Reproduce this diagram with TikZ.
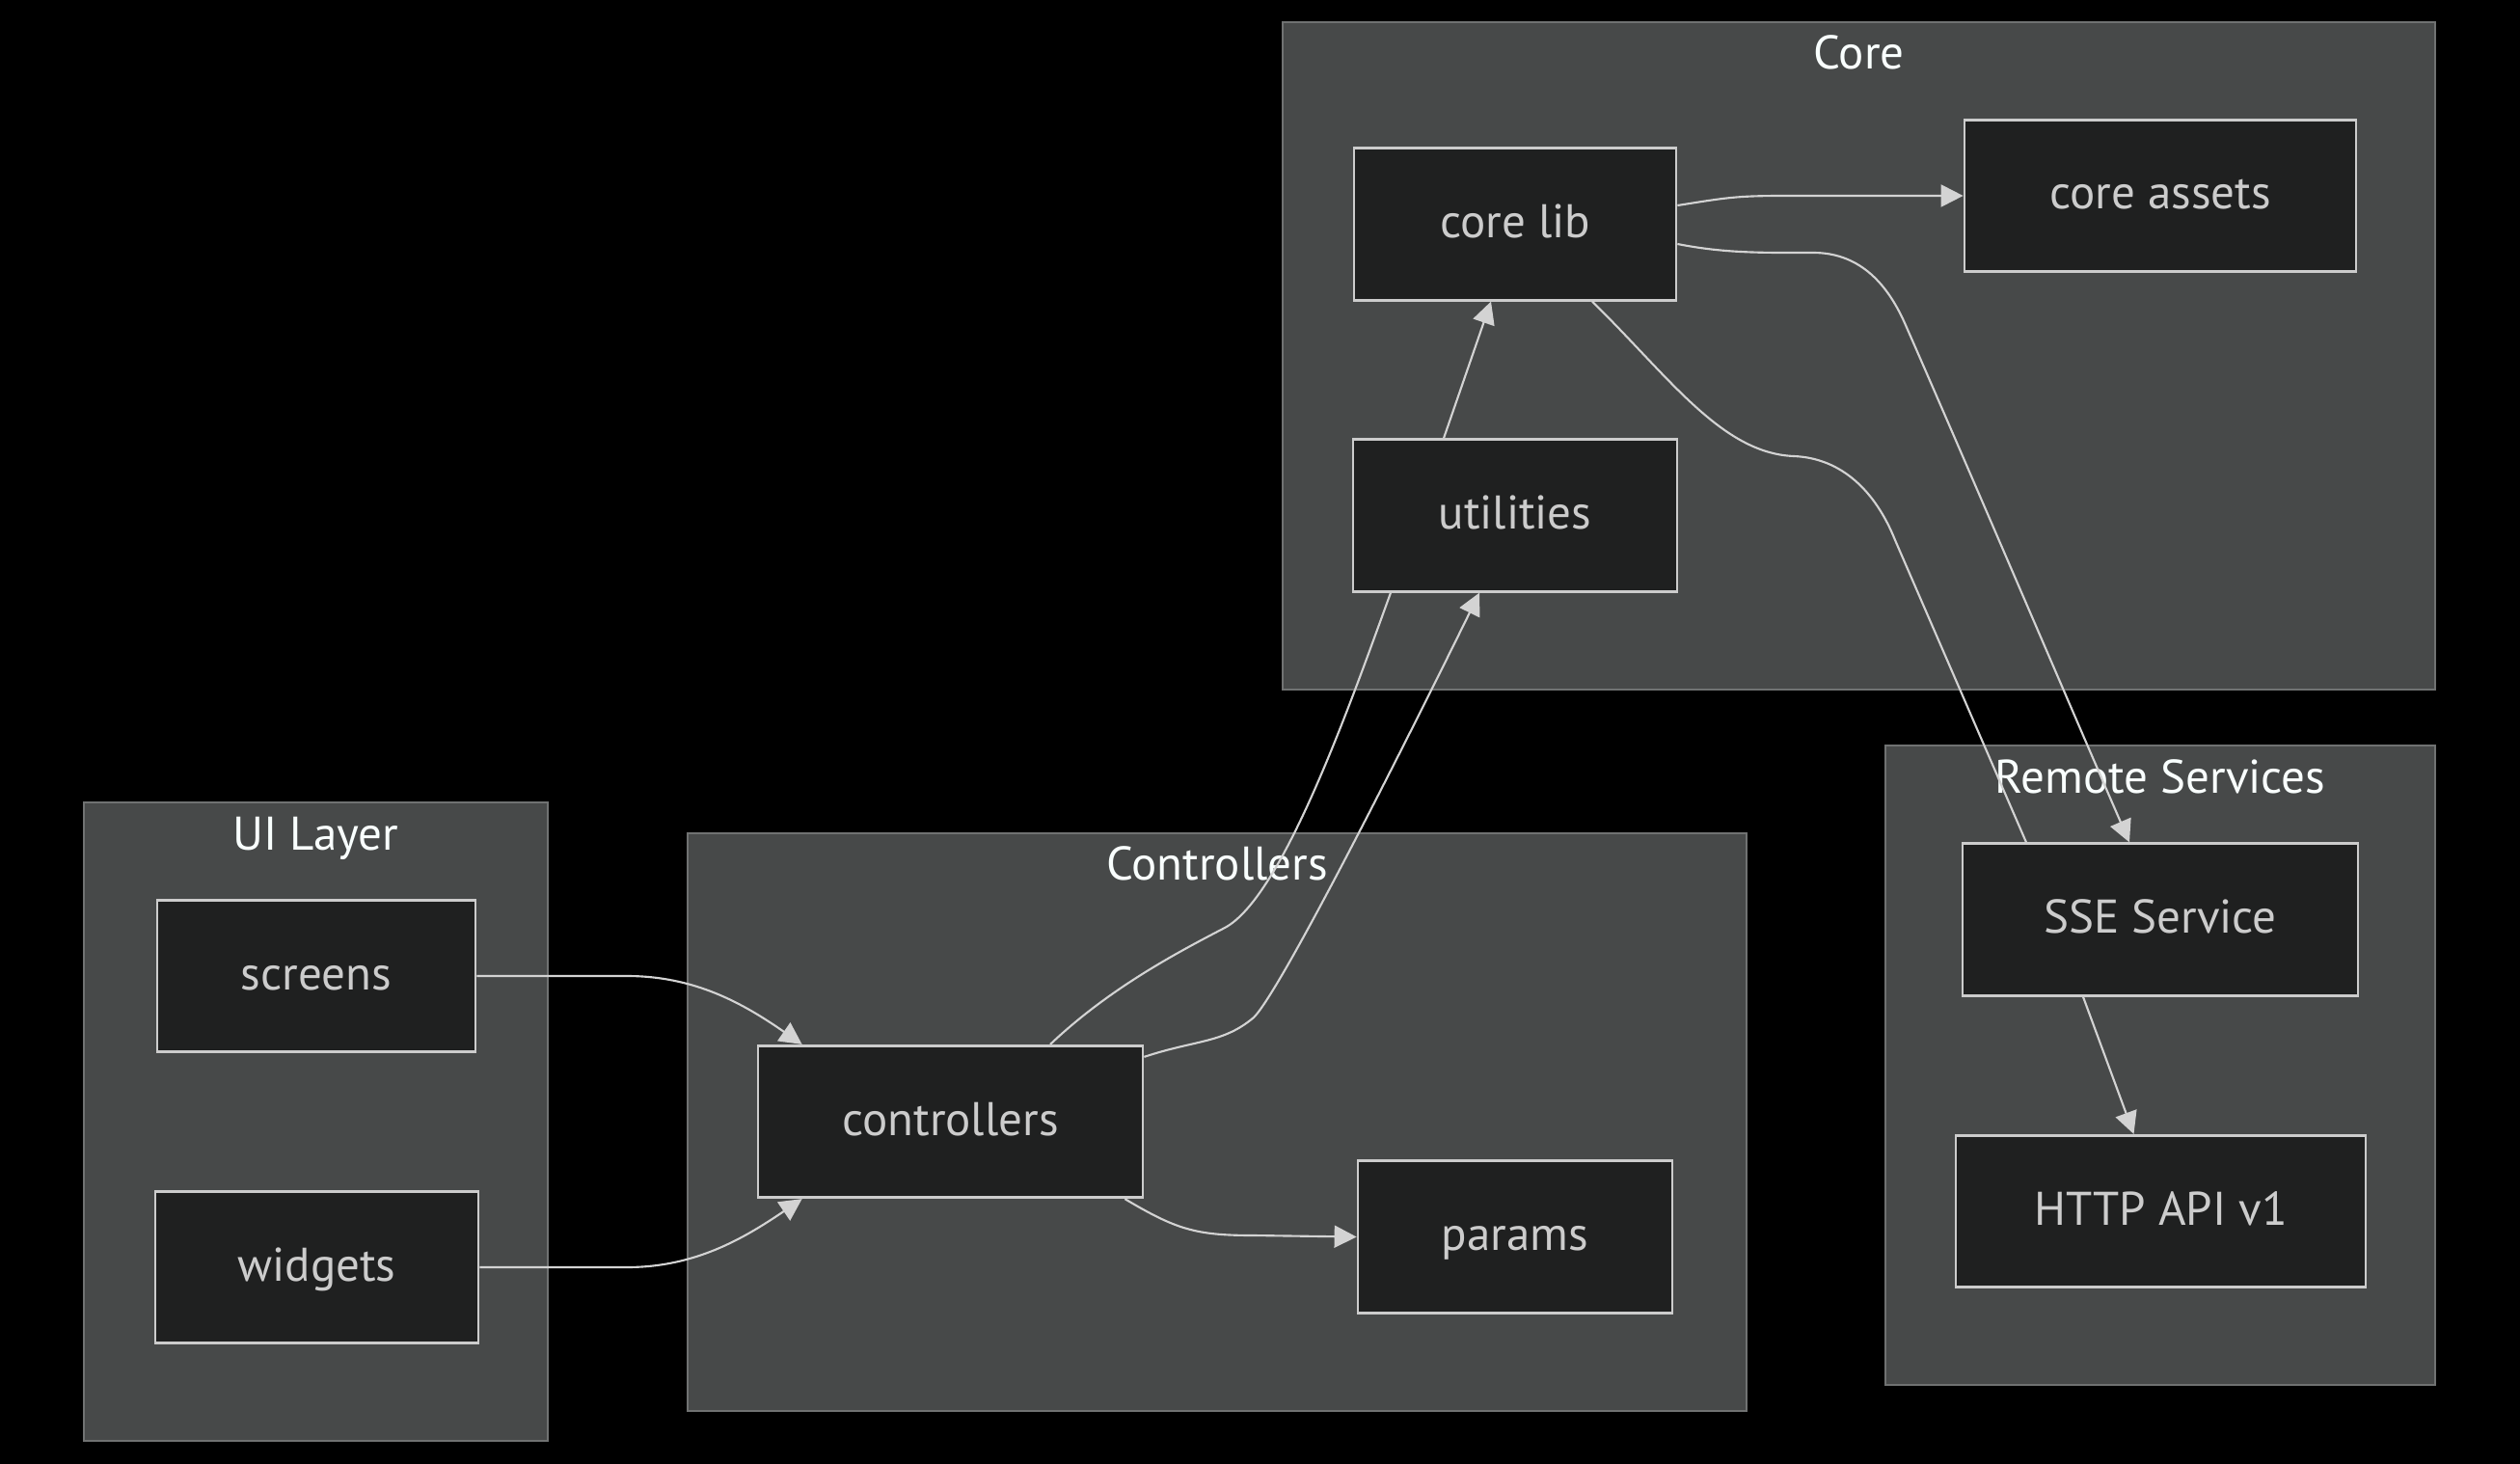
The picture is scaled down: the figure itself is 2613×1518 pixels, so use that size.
\documentclass[tikz,border=0pt]{standalone}
\usepackage{fontspec}
\setmainfont{PT Sans}
\usetikzlibrary{arrows.meta}
\definecolor{clfill}{HTML}{474949}
\definecolor{clborder}{HTML}{707272}
\definecolor{nodefill}{HTML}{1F2020}
\definecolor{nodeborder}{HTML}{CCCCCC}
\definecolor{nodetext}{HTML}{CCCCCC}
\definecolor{titletext}{HTML}{F9FFFE}
\definecolor{edgecol}{HTML}{D3D3D3}
\begin{document}
\begin{tikzpicture}[x=0.4pt,y=-0.4pt,
 cluster/.style={fill=clfill, draw=clborder, line width=0.8pt},
 ctitle/.style={text=titletext, font=\fontsize{19.6pt}{23pt}\selectfont, inner sep=0pt},
 box/.style={rectangle, fill=nodefill, draw=nodeborder, line width=1.1pt, text=nodetext,
   font=\fontsize{19.6pt}{23pt}\selectfont, minimum height=63pt, inner sep=0pt,
   text height=14.5pt, text depth=3.3pt},
 edge/.style={draw=edgecol, line width=0.85pt},
 arr/.style={edge, -{Triangle[length=9.2pt,width=9.2pt]}},
]
\useasboundingbox (0,0) rectangle (2613,1518);
\fill[black] (0,0) rectangle (2613,1518);

% clusters
\draw[cluster] (1330,23) rectangle (2525,715);
\draw[cluster] (1955,773) rectangle (2525,1436);
\draw[cluster] (87,832) rectangle (568,1494);
\draw[cluster] (713,864) rectangle (1811,1463);

\node[ctitle, anchor=base] (tcore) at (1927.5,72) {Core};
\node[ctitle, anchor=base] (tremote) at (2240,822) {Remote Services};
\node[ctitle, anchor=base] (tui) at (327.5,881) {UI Layer};
\node[ctitle, anchor=base] (tctrl) at (1262,912) {Controllers};

% nodes
\node[box, minimum width=133.6pt] (corelib) at (1571,232.5) {core lib};
\node[box, minimum width=162.4pt] (coreassets) at (2240,203) {core assets};
\node[box, minimum width=134.4pt] (utilities) at (1571,534.5) {utilities};
\node[box, minimum width=164pt] (sse) at (2240,953.5) {SSE Service};
\node[box, minimum width=170pt] (http) at (2240.5,1256) {HTTP API v1};
\node[box, minimum width=132pt] (screens) at (328,1012) {screens};
\node[box, minimum width=134pt] (widgets) at (328.5,1314) {widgets};
\node[box, minimum width=159.6pt] (controllers) at (985.5,1163) {controllers};
\node[box, minimum width=130.4pt] (params) at (1571,1282.5) {params};

% edges
\draw[arr] (screens.east) -- (650,1012) .. controls (720,1012) and (770,1040) .. ([xshift=18.8pt]controllers.north west);
\draw[arr] (widgets.east) -- (650,1314) .. controls (720,1314) and (770,1285) .. ([xshift=18.8pt]controllers.south west);
\draw[arr] ([yshift=-5.2pt]controllers.north east) .. controls (1240,1078) and (1268,1082) .. (1300,1055) .. controls (1330,1025) and (1470,745) .. ([xshift=-14.8pt]utilities.south);
\draw[edge] ([xshift=-51.6pt]utilities.south) .. controls (1400,730) and (1330,930) .. (1270,962) .. controls (1220,988) and (1150,1025) .. ([xshift=41.4pt]controllers.north);
\draw[arr] ([xshift=-29.6pt]utilities.north) -- ([xshift=-10pt]corelib.south);
\draw[arr] ([yshift=7.8pt]corelib.east) .. controls (1790,205) and (1800,203) .. (1850,203) -- (coreassets.west);
\draw[arr] ([yshift=-8.2pt]corelib.east) .. controls (1790,263) and (1830,262) .. (1880,262) .. controls (1925,262) and (1955,290) .. (1975,335) .. controls (2030,460) and (2150,740) .. ([xshift=-12.8pt]sse.north);
\draw[edge] ([xshift=32pt]corelib.south) .. controls (1730,390) and (1785,470) .. (1860,473) .. controls (1910,475) and (1945,510) .. (1965,560) -- ([xshift=-55.6pt]sse.north);
\draw[arr] ([xshift=-32pt]sse.south) -- ([xshift=-11.2pt]http.north);
\draw[arr] ([xshift=-8pt]controllers.south east) .. controls (1220,1275) and (1240,1281) .. (1300,1281) -- (params.west);
\end{tikzpicture}
\end{document}
